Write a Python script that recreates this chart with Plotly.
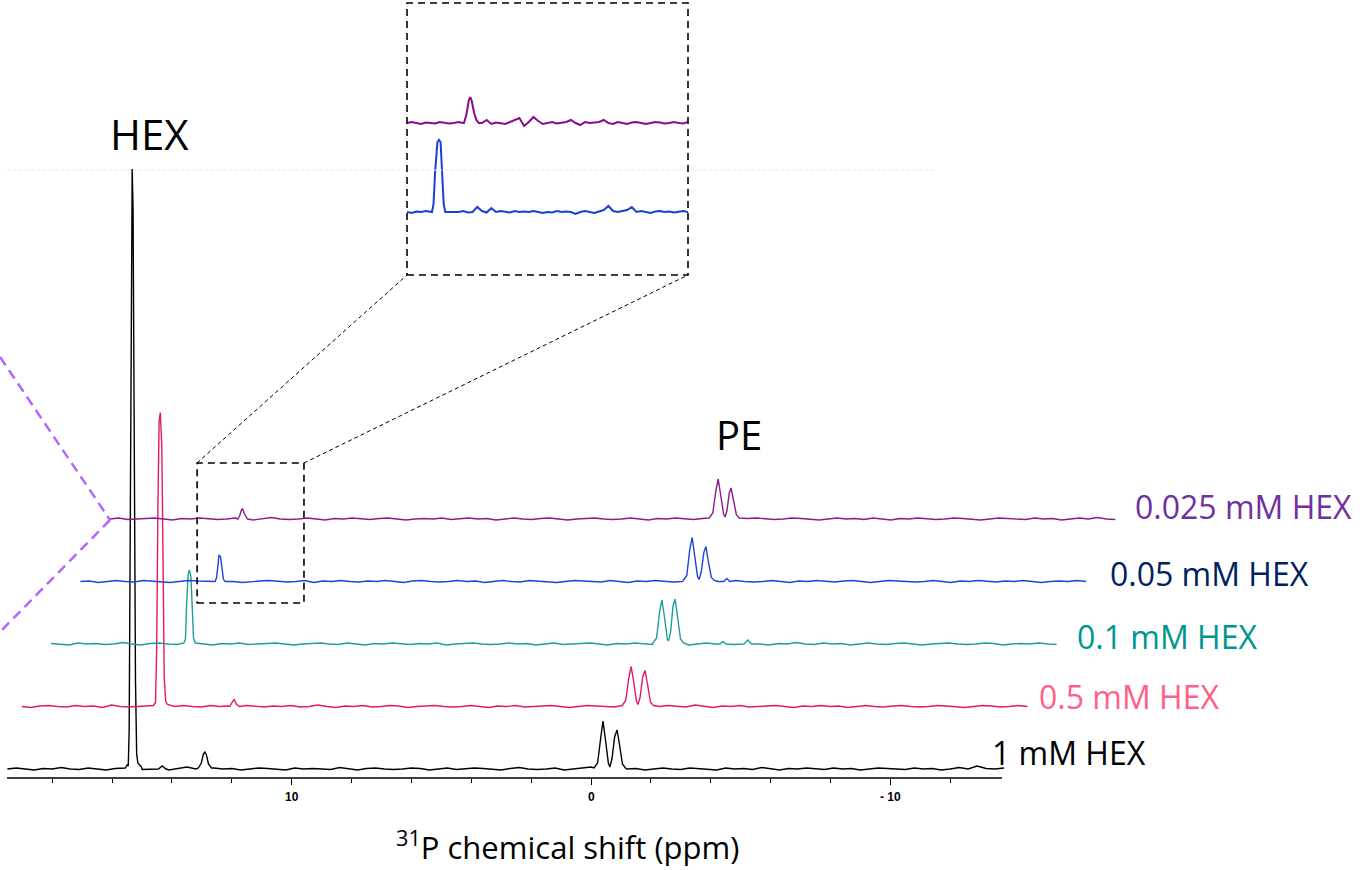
import plotly.graph_objects as go

# ---------------------------------------------------------------- data
concentrations = ["1 mM HEX", "0.5 mM HEX", "0.1 mM HEX", "0.05 mM HEX", "0.025 mM HEX"]

# baseline sampling (ppm) for each spectrum
starts = [19.5, 20.0, 20.0, 20.0, 20.0]
STEP = 0.3

noise_1mM = [0, 1, 0, -1, 0.5, 0, 1.5, 0, -0.5, 1, 0, -1, 0.5, 1, 0, -0.5, 0, 1, -1, 0.5,
             2, 0, -0.5, 1, 0, 0.5, -1, 0, 1, 0.5, 0, -1, 1, 0, 0.5, 0, -0.5, 1.5, 0, -1,
             0.5, 1, 0, -0.5, 0, 1, 0.5, -1, 0, 1, -0.5, 0, 1, 0.5, 0, -1, 0.5, 1.5, 0, -0.5,
             0, 1, -1, 0, 0.5, 2, 0, -0.5, 1, 0, 0.5, -1, 0, 1, 0, -0.5, 1, 0.5, 0, -1,
             1, 0, 0.5, -0.5, 1.5, 0, -1, 0.5, 0, 1, 0, -0.5, 1, 0, 0.5, -1, 0, 1, 0.5, 0,
             -0.5, 1, 0, 0.5, -1, 0, 1.5, 0, 3, 0.5, 0, 1]
noise_05mM = [0, -1, 0.5, 1, 0, -0.5, 1, 0, 0.5, -1, 1.5, 0, -0.5, 0, 1, 0.5, -1, 0, 1, 0,
              -0.5, 1, 0, 0.5, -1, 1, 0, -0.5, 0.5, 0, 1, -0.5, 0, 1.5, 0, -1, 0.5, 0, 1, -0.5,
              0, 1, 0.5, -1, 0, 0.5, 1, 0, -0.5, 0, 1, 0, -1, 0.5, 0, 1, -0.5, 0, 0.5, 1,
              0, -1, 0, 1, 0.5, 0, -0.5, 1, 0, -1, 0.5, 0, 1, 0, -0.5, 1.5, 0, -1, 0.5, 0,
              1, -0.5, 0, 0.5, 1, 0, -1, 0.5, 0, 1, 0, 0.5, -1, 0, 1, 0, -0.5, 0.5, 1, 0,
              -0.5, 0, 1, 0.5, 0, -1, 0, 1, 0.5, -0.5, 0, 1, 0]
noise_01mM = [0.5, 0, -1, 1, 0, 0.5, -0.5, 0, 1.5, 0, -1, 0.5, 1, 0, -0.5, 0, 2, 0, -1, 0.5,
              0, 1, -0.5, 0, 0.5, 1, 0, -1, 0, 0.5, 1, 0, -0.5, 1, 0, -1, 0.5, 0, 1, 0,
              -0.5, 0.5, 0, 1, -1, 0, 0.5, 1, 0, -0.5, 0, 1, 0, 0.5, -1, 0, 1, -0.5, 0, 0.5,
              1, 0, -1, 0.5, 0, 1, 0, -0.5, 1, 0, 0.5, -1, 0, 1, 0, 0.5, -0.5, 0, 1, 0,
              -1, 0.5, 0, 1.5, 0, -0.5, 1, 0, 0.5, -1, 0, 1, 0, -0.5, 0.5, 1, 0, -1, 0, 0.5,
              1, 0, -0.5, 0, 1, 0.5, -1, 0, 0.5, 0, 1, 0, -0.5]
noise_005mM = [0, 0.5, -1, 0, 1, 0, -0.5, 1, 0.5, 0, -1, 0, 1, 0.5, 0, -0.5, 1.5, 0, -1, 0,
               0.5, 1, 0, -0.5, 0, 1, -1, 0.5, 0, 1, 0, -0.5, 0.5, 0, 1, 0, -1, 0.5, 1, 0,
               -0.5, 0, 1, 0, 0.5, -1, 0, 1, 0, -0.5, 1, 0.5, 0, -1, 0, 1, 0.5, 0, -0.5, 1,
               0, -1, 0.5, 0, 1, 0, -0.5, 0, 1, 0.5, -1, 0, 0.5, 1, 0, -0.5, 0, 1, 0, -1,
               0.5, 0, 1, 0, -0.5, 0.5, 1, 0, -1, 0, 1, 0.5, 0, -0.5, 0, 1, 0, -1, 0.5, 0,
               1, 0, -0.5, 0.5, 0, 1, 0, -1, 0, 0.5, 0, 1, 0]
noise_0025mM = [0, 1, -0.5, 0, 0.5, 1, 0, -1, 0.5, 0, 1, 0, -0.5, 0, 1, 0.5, -1, 0, 1.5, 0,
                -0.5, 0, 1, 0, -1, 0.5, 0, 1, 0, -0.5, 0.5, 1, 0, -1, 0, 0.5, 0, 1, -0.5, 0,
                1, 0, 0.5, -1, 0, 1, 0, -0.5, 0.5, 1, 0, -1, 0, 0.5, 1, 0, -0.5, 0, 1, 0,
                -1, 0.5, 0, 1, 0, -0.5, 0.5, 0, 1, -1, 0, 0.5, 1, 0, -0.5, 0, 1, 0.5, 0, -1,
                0, 1, 0, 0.5, -0.5, 1, 0, -1, 0.5, 0, 1, 0, -0.5, 0, 1, 0.5, 0, -1, 0, 1,
                0.5, 0, -0.5, 1, 0, 0.5, -1, 0, 1, 0, 1.5, 0, -0.5]
noises = [noise_1mM, noise_05mM, noise_01mM, noise_005mM, noise_0025mM]

# resonances: (ppm, intensity) points for each peak
peaks_1mM = [
    [(15.56, 1), (15.50, 4), (15.46, 3), (15.43, 40), (15.40, 250), (15.36, 520), (15.33, 600),
     (15.30, 560), (15.26, 330), (15.22, 90), (15.18, 15), (15.14, 6), (15.08, 4), (15.02, 2)],
    [(14.45, 0), (14.33, 3), (14.2, 0)],
    [(13.12, 1), (13.02, 6), (12.95, 15), (12.90, 17), (12.85, 14), (12.78, 5), (12.68, 1)],
    [(-0.10, 1), (-0.22, 6), (-0.32, 30), (-0.40, 48), (-0.48, 30), (-0.58, 6), (-0.63, 2),
     (-0.70, 10), (-0.79, 32), (-0.87, 39), (-0.95, 25), (-1.05, 5), (-1.15, 1)],
]
peaks_05mM = [
    [(15.60, 1), (15.53, 4), (15.49, 60), (15.45, 200), (15.41, 285), (15.37, 294),
     (15.32, 260), (15.28, 150), (15.24, 30), (15.19, 5), (15.13, 2)],
    [(13.05, 0), (12.95, 5), (12.9, 7), (12.82, 2), (12.72, 0)],
    [(-0.06, 1), (-0.18, 6), (-0.28, 28), (-0.36, 40), (-0.44, 26), (-0.54, 5), (-0.59, 2),
     (-0.66, 9), (-0.75, 30), (-0.83, 36), (-0.91, 22), (-1.01, 4), (-1.11, 1)],
]
peaks_01mM = [
    [(15.56, 1), (15.51, 5), (15.47, 40), (15.42, 70), (15.38, 74), (15.33, 68), (15.28, 35),
     (15.24, 6), (15.18, 1)],
    [(-0.11, 1), (-0.23, 6), (-0.33, 32), (-0.41, 44), (-0.49, 28), (-0.59, 5), (-0.63, 3),
     (-0.70, 12), (-0.78, 38), (-0.85, 45), (-0.93, 28), (-1.03, 5), (-1.13, 1)],
    [(-2.35, 0), (-2.45, 2.5), (-2.55, 0)],
    [(-3.15, 0), (-3.28, 4), (-3.4, 0)],
]
peaks_005mM = [
    [(15.50, 0), (15.45, 4), (15.41, 18), (15.37, 26), (15.32, 25), (15.27, 12), (15.22, 2),
     (15.16, 0)],
    [(-0.14, 1), (-0.26, 6), (-0.36, 32), (-0.44, 44), (-0.52, 28), (-0.62, 5), (-0.67, 2),
     (-0.74, 9), (-0.83, 29), (-0.90, 35), (-0.98, 20), (-1.08, 4), (-1.18, 1)],
    [(-1.5, 0), (-1.6, 3), (-1.7, 0)],
]
peaks_0025mM = [
    [(15.72, 0), (15.66, 3), (15.60, 9), (15.56, 10), (15.51, 6), (15.45, 2), (15.40, 0)],
    [(-0.03, 1), (-0.15, 6), (-0.25, 28), (-0.33, 40), (-0.41, 26), (-0.51, 5), (-0.56, 2),
     (-0.62, 8), (-0.70, 26), (-0.76, 31), (-0.84, 19), (-0.94, 4), (-1.04, 1)],
]
peaks = [peaks_1mM, peaks_05mM, peaks_01mM, peaks_005mM, peaks_0025mM]

# expanded region (inset): 0.05 mM and 0.025 mM traces
inset_start, inset_step = 13.2, 0.06
inset_noise_005 = [0, -1, 0.5, 0, 1, 0, 0, 0, 0, 0,
                   0, 0, 1, -0.5, 0, 5, 1, -0.5, 4, 0,
                   1, 0, -0.5, 1, 0, 0.5, 0, 1, 0, -1,
                   0, -0.5, 1, 0, 0.5, 0, -2, 0, 1, 0,
                   -1, 0.5, 2, 6, 1, 0, 1, 2, 5, 0,
                   1, 0, -1, 0.5, 1, 0, 0.5, -0.5, 0, 1, 0]
inset_noise_0025 = [0, 1, 0, -1, 0.5, 0, -0.5, 1, 0, -0.5,
                    0, 1, 0, 0, 1, -1, 0, 3, -1, 0.5,
                    0, -1, 1, 3, 5, -3, 1, 6, 2, -1,
                    0, 1, -0.5, 0, 1, 3, 0, -2, 1, 0,
                    0.5, 1, 3, 0, -1, 1, 0, -1, 0.5, 1,
                    0, -1, 0, 1, 0.5, -0.5, 0, 1, 0, -0.5, 1]
inset_peak_005 = [(12.88, 0), (12.86, 8), (12.84, 40), (12.81, 70), (12.79, 72), (12.77, 70),
                  (12.75, 40), (12.73, 8), (12.71, 0)]
inset_peak_0025 = [(12.47, 0), (12.44, 8), (12.41, 22), (12.39, 26), (12.37, 22), (12.34, 10),
                   (12.31, 3), (12.28, 0)]

tick_vals = [10, 0, -10]
tick_text = ["10", "0", "- 10"]
minor_vals = [18, 16, 14, 12, 8, 6, 4, 2, -2, -4, -6, -8, -12]

# ---------------------------------------------------------------- styling
W, H = 1362, 870
trace_colors = ["#000000", "#e3176b", "#1f9e96", "#1d44d6", "#8c1b8c"]
label_colors = ["#000000", "#ff6088", "#00968f", "#002060", "#7030a0"]
FONT = "Open Sans"
SHIFT = 0.98    # horizontal stacking offset (ppm per spectrum)
LIFT = 62.5     # vertical stacking offset (intensity units per spectrum)


def px(x, y):
    """pixel position -> paper coordinates"""
    return x / W, 1 - y / H


def assemble(start, step, noise, peak_list):
    xs = [start - step * i for i in range(len(noise))]
    pts = []
    for x, v in zip(xs, noise):
        inside = any(min(p[0] for p in pk) <= x <= max(p[0] for p in pk) for pk in peak_list)
        if not inside:
            pts.append((x, v))
    for pk in peak_list:
        pts.extend(pk)
    pts.sort(key=lambda p: -p[0])
    return [p[0] for p in pts], [p[1] for p in pts]


fig = go.Figure()

for lvl in range(5):
    x, y = assemble(starts[lvl], STEP, noises[lvl], peaks[lvl])
    fig.add_trace(go.Scatter(
        x=[v - lvl * SHIFT for v in x], y=[v + lvl * LIFT for v in y],
        mode="lines", line=dict(color=trace_colors[lvl], width=1.4),
        showlegend=False, hoverinfo="skip", xaxis="x", yaxis="y"))

# inset traces
INSET_LIFT = 89
for noise, pk, color, lvl in [(inset_noise_005, inset_peak_005, "#1b3fd6", 0),
                              (inset_noise_0025, inset_peak_0025, "#8b0a8b", 1)]:
    x, y = assemble(inset_start, inset_step, noise, [pk])
    fig.add_trace(go.Scatter(
        x=x, y=[v + lvl * INSET_LIFT for v in y], mode="lines",
        line=dict(color=color, width=2), showlegend=False, hoverinfo="skip",
        xaxis="x2", yaxis="y2"))

# ---------------------------------------------------------------- axes
x_left = 591 / 29.93
x_right = (591 - W) / 29.93
fig.update_layout(
    width=W, height=H, margin=dict(l=0, r=0, t=0, b=0),
    paper_bgcolor="white", plot_bgcolor="rgba(0,0,0,0)",
    xaxis=dict(domain=[0, 1], range=[x_left, x_right], showgrid=False, zeroline=False,
               showline=False, ticks="outside", ticklen=6, tickwidth=1.3, tickcolor="black",
               tickmode="array", tickvals=tick_vals, showticklabels=False,
               minor=dict(tickmode="array", tickvals=minor_vals, ticks="outside", ticklen=4,
                          tickwidth=1.3, tickcolor="black"),
               anchor="y"),
    yaxis=dict(domain=[1 - 778 / H, 1], range=[-9, 769], visible=False),
    xaxis2=dict(domain=[407 / W, 688 / W], range=[inset_start, inset_start - 60 * inset_step],
                visible=False, anchor="y2"),
    yaxis2=dict(domain=[1 - 275 / H, 1 - 3 / H], range=[-63, 209], visible=False, anchor="x2"),
)

shapes = []
# x axis baseline
shapes.append(dict(type="line", xref="x", yref="y domain", x0=19.51, x1=-13.73, y0=0, y1=0,
                   line=dict(color="black", width=1.3)))
# faint clipping guide at the top of the main resonance
shapes.append(dict(type="line", xref="x", yref="y", x0=19.5, x1=-11.5, y0=599, y1=599,
                   line=dict(color="#e6e6e6", width=1, dash="dot")))
# selection box on the main spectra
shapes.append(dict(type="rect", xref="x", yref="y", x0=13.16, x1=9.59, y0=166, y1=306,
                   line=dict(color="black", width=1.6, dash="7px,5px")))
# inset frame
shapes.append(dict(type="rect", xref="x2 domain", yref="y2 domain", x0=0, x1=1, y0=0, y1=1,
                   line=dict(color="black", width=1.6, dash="7px,5px")))
# connectors between selection and inset
for (a, b) in [((197, 463), (407, 275)), ((304, 463), (688, 275))]:
    (x0, y0), (x1, y1) = px(*a), px(*b)
    shapes.append(dict(type="line", xref="paper", yref="paper", x0=x0, y0=y0, x1=x1, y1=y1,
                       line=dict(color="black", width=1, dash="4px,3px")))
# stacking guide on the left
for (a, b) in [((0, 357), (110, 520)), ((110, 520), (0, 632))]:
    (x0, y0), (x1, y1) = px(*a), px(*b)
    shapes.append(dict(type="line", xref="paper", yref="paper", x0=x0, y0=y0, x1=x1, y1=y1,
                       line=dict(color="#b266ff", width=2.5, dash="10px,6px")))
fig.update_layout(shapes=shapes)

# ---------------------------------------------------------------- text
ann = []
# x tick labels
for v, t in zip(tick_vals, tick_text):
    ann.append(dict(text=f"<b>{t}</b>", x=v, y=px(0, 797)[1], xref="x", yref="paper",
                    xanchor="center", yanchor="middle", showarrow=False,
                    font=dict(family="Liberation Sans, Arial", size=12, color="black")))
label_pos = [(990, 752), (1037, 696), (1075, 636), (1108, 573), (1133, 506)]
for lvl in range(5):
    x, y = px(*label_pos[lvl])
    ann.append(dict(text=concentrations[lvl], x=x, y=y, xref="paper", yref="paper",
                    xanchor="left", yanchor="middle", showarrow=False,
                    font=dict(family=FONT, size=32, color=label_colors[lvl])))
x, y = px(149.5, 133)
ann.append(dict(text="HEX", x=x, y=y, xref="paper", yref="paper", xanchor="center",
                yanchor="middle", showarrow=False, font=dict(family=FONT, size=42, color="black")))
x, y = px(738.5, 434)
ann.append(dict(text="PE", x=x, y=y, xref="paper", yref="paper", xanchor="center",
                yanchor="middle", showarrow=False, font=dict(family=FONT, size=40, color="black")))
x, y = px(567, 845)
ann.append(dict(text="<sup>31</sup>P chemical shift (ppm)", x=x, y=y, xref="paper", yref="paper",
                xanchor="center", yanchor="middle", showarrow=False,
                font=dict(family=FONT, size=31, color="black")))
fig.update_layout(annotations=ann)

fig.write_html("out.html")
